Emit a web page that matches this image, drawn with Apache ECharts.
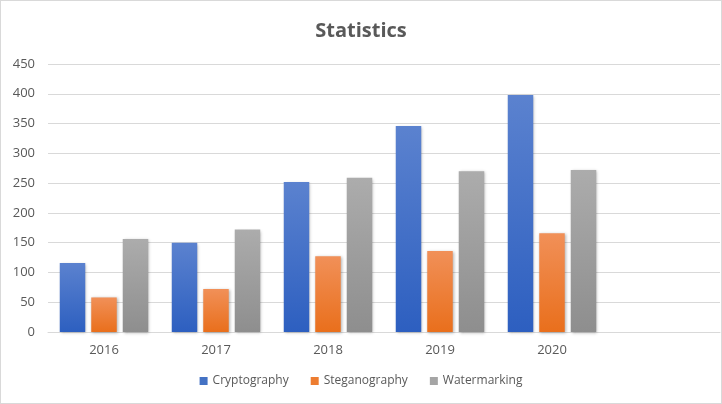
<!DOCTYPE html>
<html><head><meta charset="utf-8">
<script src="https://cdn.jsdelivr.net/npm/echarts@6/dist/echarts.min.js"></script>
<style>html,body{margin:0;padding:0;background:#fff}#c{width:720px;height:402px;border:1px solid #d9d9d9}</style>
</head><body><div id="c"></div>
<script>
const categories = ['2016','2017','2018','2019','2020',''];
const cryptography = [116,150,252,346,398];
const steganography = [58,72,127,136,166];
const watermarking = [156,172,259,270,272];
const yTicks = {min:0,max:450,interval:50};

const chart = echarts.init(document.getElementById('c'));
function grad(a,b){return {type:'linear',x:0,y:0,x2:0,y2:1,colorStops:[{offset:0,color:a},{offset:1,color:b}]};}
function s(name,data,top,bot){
  return {name,type:'bar',data,barWidth:25.5,barGap:'23.5%',
    itemStyle:{color:grad(top,bot),shadowBlur:3,shadowColor:'rgba(0,0,0,0.3)',shadowOffsetX:1,shadowOffsetY:1}};
}
chart.setOption({
  animation:false,
  color:['#4472c4','#ed7d31','#a5a5a5'],
  title:{text:'Statistics',left:'center',top:15,textStyle:{fontFamily:'Open Sans',fontSize:20,fontWeight:'bold',color:'#595959'}},
  legend:{bottom:11,left:'center',itemWidth:8,itemHeight:8,itemGap:22,icon:'rect',
    textStyle:{fontFamily:'Open Sans',fontSize:12,color:'#595959'},
    data:[{name:'Cryptography',itemStyle:{color:'#4472c4'}},{name:'Steganography',itemStyle:{color:'#ed7d31'}},{name:'Watermarking',itemStyle:{color:'#a5a5a5'}}]},
  grid:{left:47,right:1,top:63,bottom:71,containLabel:false},
  xAxis:{type:'category',data:categories,axisTick:{show:false},
    axisLine:{lineStyle:{color:'#d9d9d9',width:1}},
    axisLabel:{color:'#595959',fontFamily:'Open Sans',fontSize:13,margin:12}},
  yAxis:{type:'value',min:yTicks.min,max:yTicks.max,interval:yTicks.interval,
    axisLine:{show:false},axisTick:{show:false},
    splitLine:{lineStyle:{color:'#d9d9d9',width:1}},
    axisLabel:{color:'#595959',fontFamily:'Open Sans',fontSize:13,margin:13}},
  series:[
    s('Cryptography',cryptography,'#5b82cf','#2d5fc0'),
    s('Steganography',steganography,'#f19058','#e96f1c'),
    s('Watermarking',watermarking,'#acacac','#8e8e8e')
  ]
});
</script></body></html>
